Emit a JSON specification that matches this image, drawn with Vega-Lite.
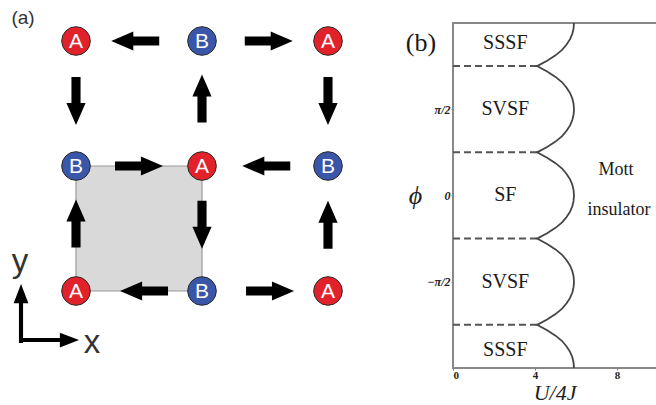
{
  "$schema": "https://vega.github.io/schema/vega-lite/v6.json",
  "padding": 0,
  "background": "white",
  "config": {"view": {"stroke": null}, "concat": {"spacing": 0}},
  "bounds": "flush",
  "datasets": {
    "cell": [{"x": 0, "y": 0, "xe": 1, "ye": 1}],
    "arrows": [
      {"x": 0.47, "y": 2, "angle": 180}, {"x": 1.53, "y": 2, "angle": 0},
      {"x": 0.5, "y": 1, "angle": 0}, {"x": 1.51, "y": 1, "angle": 180},
      {"x": 0.54, "y": 0, "angle": 180}, {"x": 1.54, "y": 0, "angle": 0},
      {"x": 0, "y": 1.52, "angle": 90}, {"x": 1, "y": 1.54, "angle": 270}, {"x": 2, "y": 1.52, "angle": 90},
      {"x": 0, "y": 0.54, "angle": 270}, {"x": 1, "y": 0.53, "angle": 90}, {"x": 2, "y": 0.53, "angle": 270}
    ],
    "sites": [
      {"x": 0, "y": 2, "site": "A"}, {"x": 1, "y": 2, "site": "B"}, {"x": 2, "y": 2, "site": "A"},
      {"x": 0, "y": 1, "site": "B"}, {"x": 1, "y": 1, "site": "A"}, {"x": 2, "y": 1, "site": "B"},
      {"x": 0, "y": 0, "site": "A"}, {"x": 1, "y": 0, "site": "B"}, {"x": 2, "y": 0, "site": "A"}
    ],
    "coordArrows": [{"x": -0.4365, "y": -0.18, "angle": 270}, {"x": -0.21, "y": -0.392, "angle": 0}],
    "coordLetters": [{"x": -0.444, "y": 0.232, "label": "y"}, {"x": 0.127, "y": -0.416, "label": "x"}],
    "panelA": [{"x": -0.42, "y": 2.184, "label": "(a)"}],
    "frame": [
      {"u": 0, "u2": 0, "phi": -1, "phi2": 1},
      {"u": 0, "u2": 9.9, "phi": 1, "phi2": 1},
      {"u": 0, "u2": 9.9, "phi": -1, "phi2": -1}
    ],
    "dashes": [
      {"u": 0, "u2": 4.1, "phi": 0.75, "phi2": 0.75},
      {"u": 0, "u2": 4.1, "phi": 0.25, "phi2": 0.25},
      {"u": 0, "u2": 4.1, "phi": -0.25, "phi2": -0.25},
      {"u": 0, "u2": 4.1, "phi": -0.75, "phi2": -0.75}
    ],
    "curve": [
      {"phi": -1, "u": 5.9}, {"phi": -0.96875, "u": 5.88}, {"phi": -0.9375, "u": 5.82}, {"phi": -0.90625, "u": 5.71},
      {"phi": -0.875, "u": 5.54}, {"phi": -0.84375, "u": 5.32}, {"phi": -0.8125, "u": 5.0}, {"phi": -0.78125, "u": 4.59},
      {"phi": -0.75, "u": 4.1}, {"phi": -0.71875, "u": 4.59}, {"phi": -0.6875, "u": 5.0}, {"phi": -0.65625, "u": 5.32},
      {"phi": -0.625, "u": 5.54}, {"phi": -0.59375, "u": 5.71}, {"phi": -0.5625, "u": 5.82}, {"phi": -0.53125, "u": 5.88},
      {"phi": -0.5, "u": 5.9}, {"phi": -0.46875, "u": 5.88}, {"phi": -0.4375, "u": 5.82}, {"phi": -0.40625, "u": 5.71},
      {"phi": -0.375, "u": 5.54}, {"phi": -0.34375, "u": 5.32}, {"phi": -0.3125, "u": 5.0}, {"phi": -0.28125, "u": 4.59},
      {"phi": -0.25, "u": 4.1}, {"phi": -0.21875, "u": 4.59}, {"phi": -0.1875, "u": 5.0}, {"phi": -0.15625, "u": 5.32},
      {"phi": -0.125, "u": 5.54}, {"phi": -0.09375, "u": 5.71}, {"phi": -0.0625, "u": 5.82}, {"phi": -0.03125, "u": 5.88},
      {"phi": 0, "u": 5.9}, {"phi": 0.03125, "u": 5.88}, {"phi": 0.0625, "u": 5.82}, {"phi": 0.09375, "u": 5.71},
      {"phi": 0.125, "u": 5.54}, {"phi": 0.15625, "u": 5.32}, {"phi": 0.1875, "u": 5.0}, {"phi": 0.21875, "u": 4.59},
      {"phi": 0.25, "u": 4.1}, {"phi": 0.28125, "u": 4.59}, {"phi": 0.3125, "u": 5.0}, {"phi": 0.34375, "u": 5.32},
      {"phi": 0.375, "u": 5.54}, {"phi": 0.40625, "u": 5.71}, {"phi": 0.4375, "u": 5.82}, {"phi": 0.46875, "u": 5.88},
      {"phi": 0.5, "u": 5.9}, {"phi": 0.53125, "u": 5.88}, {"phi": 0.5625, "u": 5.82}, {"phi": 0.59375, "u": 5.71},
      {"phi": 0.625, "u": 5.54}, {"phi": 0.65625, "u": 5.32}, {"phi": 0.6875, "u": 5.0}, {"phi": 0.71875, "u": 4.59},
      {"phi": 0.75, "u": 4.1}, {"phi": 0.78125, "u": 4.59}, {"phi": 0.8125, "u": 5.0}, {"phi": 0.84375, "u": 5.32},
      {"phi": 0.875, "u": 5.54}, {"phi": 0.90625, "u": 5.71}, {"phi": 0.9375, "u": 5.82}, {"phi": 0.96875, "u": 5.88},
      {"phi": 1, "u": 5.9}
    ],
    "phases": [
      {"u": 2.55, "phi": 0.884, "label": "SSSF"},
      {"u": 2.55, "phi": 0.5, "label": "SVSF"},
      {"u": 2.55, "phi": 0, "label": "SF"},
      {"u": 2.55, "phi": -0.5, "label": "SVSF"},
      {"u": 2.55, "phi": -0.896, "label": "SSSF"}
    ],
    "mott": [
      {"u": 7.95, "phi": 0.148, "label": "Mott"},
      {"u": 8.1, "phi": -0.084, "label": "insulator"}
    ],
    "panelB": [{"u": -1.56, "phi": 0.884, "label": "(b)"}]
  },
  "hconcat": [
    {
      "width": 453,
      "height": 405,
      "encoding": {
        "x": {"field": "x", "type": "quantitative", "scale": {"domain": [-0.6032, 2.9921], "nice": false, "zero": false}, "axis": null},
        "y": {"field": "y", "type": "quantitative", "scale": {"domain": [-0.912, 2.328], "nice": false, "zero": false}, "axis": null}
      },
      "layer": [
        {
          "data": {"name": "cell"},
          "mark": {"type": "rect", "fill": "#d9d9d9", "stroke": "#9a9a9a", "strokeWidth": 1.2},
          "encoding": {"x2": {"field": "xe"}, "y2": {"field": "ye"}}
        },
        {
          "data": {"name": "arrows"},
          "mark": {"type": "point", "shape": "M -1 -0.19 L 0.08 -0.19 L 0.08 -0.4 L 1 0 L 0.08 0.4 L 0.08 0.19 L -1 0.19 Z", "filled": true, "color": "#000000", "opacity": 1, "size": 2304},
          "encoding": {"angle": {"field": "angle", "type": "quantitative", "scale": null}}
        },
        {
          "data": {"name": "sites"},
          "mark": {"type": "point", "shape": "circle", "filled": true, "opacity": 1, "size": 820, "stroke": "#2a2a2a", "strokeWidth": 1},
          "encoding": {"color": {"field": "site", "type": "nominal", "scale": {"domain": ["A", "B"], "range": ["#e2222b", "#3a56a8"]}, "legend": null}}
        },
        {
          "data": {"name": "sites"},
          "mark": {"type": "text", "font": "Liberation Sans", "fontSize": 21, "color": "#ffffff", "align": "center", "baseline": "middle", "dy": 1},
          "encoding": {"text": {"field": "site"}}
        },
        {
          "data": {"name": "coordArrows"},
          "mark": {"type": "point", "shape": "M -1 -0.07 L 0.35 -0.07 L 0.35 -0.25 L 1 0 L 0.35 0.25 L 0.35 0.07 L -1 0.07 Z", "filled": true, "color": "#000000", "opacity": 1, "size": 3481},
          "encoding": {"angle": {"field": "angle", "type": "quantitative", "scale": null}}
        },
        {
          "data": {"name": "coordLetters"},
          "mark": {"type": "text", "font": "Liberation Sans", "fontSize": 33, "color": "#333333", "align": "center", "baseline": "middle"},
          "encoding": {"text": {"field": "label"}}
        },
        {
          "data": {"name": "panelA"},
          "mark": {"type": "text", "font": "Liberation Sans", "fontSize": 19, "color": "#333333", "align": "center", "baseline": "middle"},
          "encoding": {"text": {"field": "label"}}
        }
      ]
    },
    {
      "width": 203,
      "height": 405,
      "encoding": {
        "x": {
          "field": "u", "type": "quantitative",
          "scale": {"domain": [0, 9.9], "nice": false, "zero": false},
          "axis": {"values": [0, 4, 8], "domain": false, "grid": false, "offset": -37, "tickSize": 2, "tickColor": "#777777",
                   "labelFont": "Liberation Serif", "labelFontSize": 11, "labelFontWeight": "bold", "labelColor": "#222222", "labelPadding": -1,
                   "title": "U/4J", "titleFont": "Liberation Serif", "titleFontStyle": "italic", "titleFontWeight": "normal", "titleFontSize": 22, "titleColor": "#222222",
                   "titleY": 24, "titleBaseline": "middle"}
        },
        "y": {
          "field": "phi", "type": "quantitative",
          "scale": {"domain": [-1.2145, 1.1333], "nice": false, "zero": false},
          "axis": {"values": [-0.5, 0, 0.5], "domain": false, "grid": false, "tickSize": 2, "tickColor": "#777777",
                   "labelExpr": "datum.value == 0.5 ? 'π/2' : (datum.value == -0.5 ? '−π/2' : '0')",
                   "labelFont": "Liberation Serif", "labelFontSize": 12, "labelFontStyle": "italic", "labelFontWeight": "bold", "labelColor": "#222222", "labelPadding": 1,
                   "title": "ϕ", "titleAngle": 0, "titleX": -38, "titleY": 195.5, "titleAlign": "center", "titleBaseline": "middle",
                   "titleFont": "Liberation Serif", "titleFontStyle": "italic", "titleFontWeight": "normal", "titleFontSize": 26, "titleColor": "#222222"}
        }
      },
      "layer": [
        {
          "data": {"name": "frame"},
          "mark": {"type": "rule", "color": "#888888", "strokeWidth": 2, "strokeCap": "square"},
          "encoding": {"x2": {"field": "u2"}, "y2": {"field": "phi2"}}
        },
        {
          "data": {"name": "dashes"},
          "mark": {"type": "rule", "color": "#555555", "strokeWidth": 2, "strokeDash": [7, 4]},
          "encoding": {"x2": {"field": "u2"}, "y2": {"field": "phi2"}}
        },
        {
          "data": {"name": "curve"},
          "mark": {"type": "line", "color": "#444444", "strokeWidth": 1.8},
          "encoding": {"order": {"field": "phi", "type": "quantitative"}}
        },
        {
          "data": {"name": "phases"},
          "mark": {"type": "text", "font": "Liberation Serif", "fontSize": 20, "color": "#1a1a1a", "align": "center", "baseline": "middle"},
          "encoding": {"text": {"field": "label"}}
        },
        {
          "data": {"name": "mott"},
          "mark": {"type": "text", "font": "Liberation Serif", "fontSize": 18, "color": "#1a1a1a", "align": "center", "baseline": "middle"},
          "encoding": {"text": {"field": "label"}}
        },
        {
          "data": {"name": "panelB"},
          "mark": {"type": "text", "font": "Liberation Serif", "fontSize": 26, "color": "#1a1a1a", "align": "center", "baseline": "middle"},
          "encoding": {"text": {"field": "label"}}
        }
      ]
    }
  ]
}
